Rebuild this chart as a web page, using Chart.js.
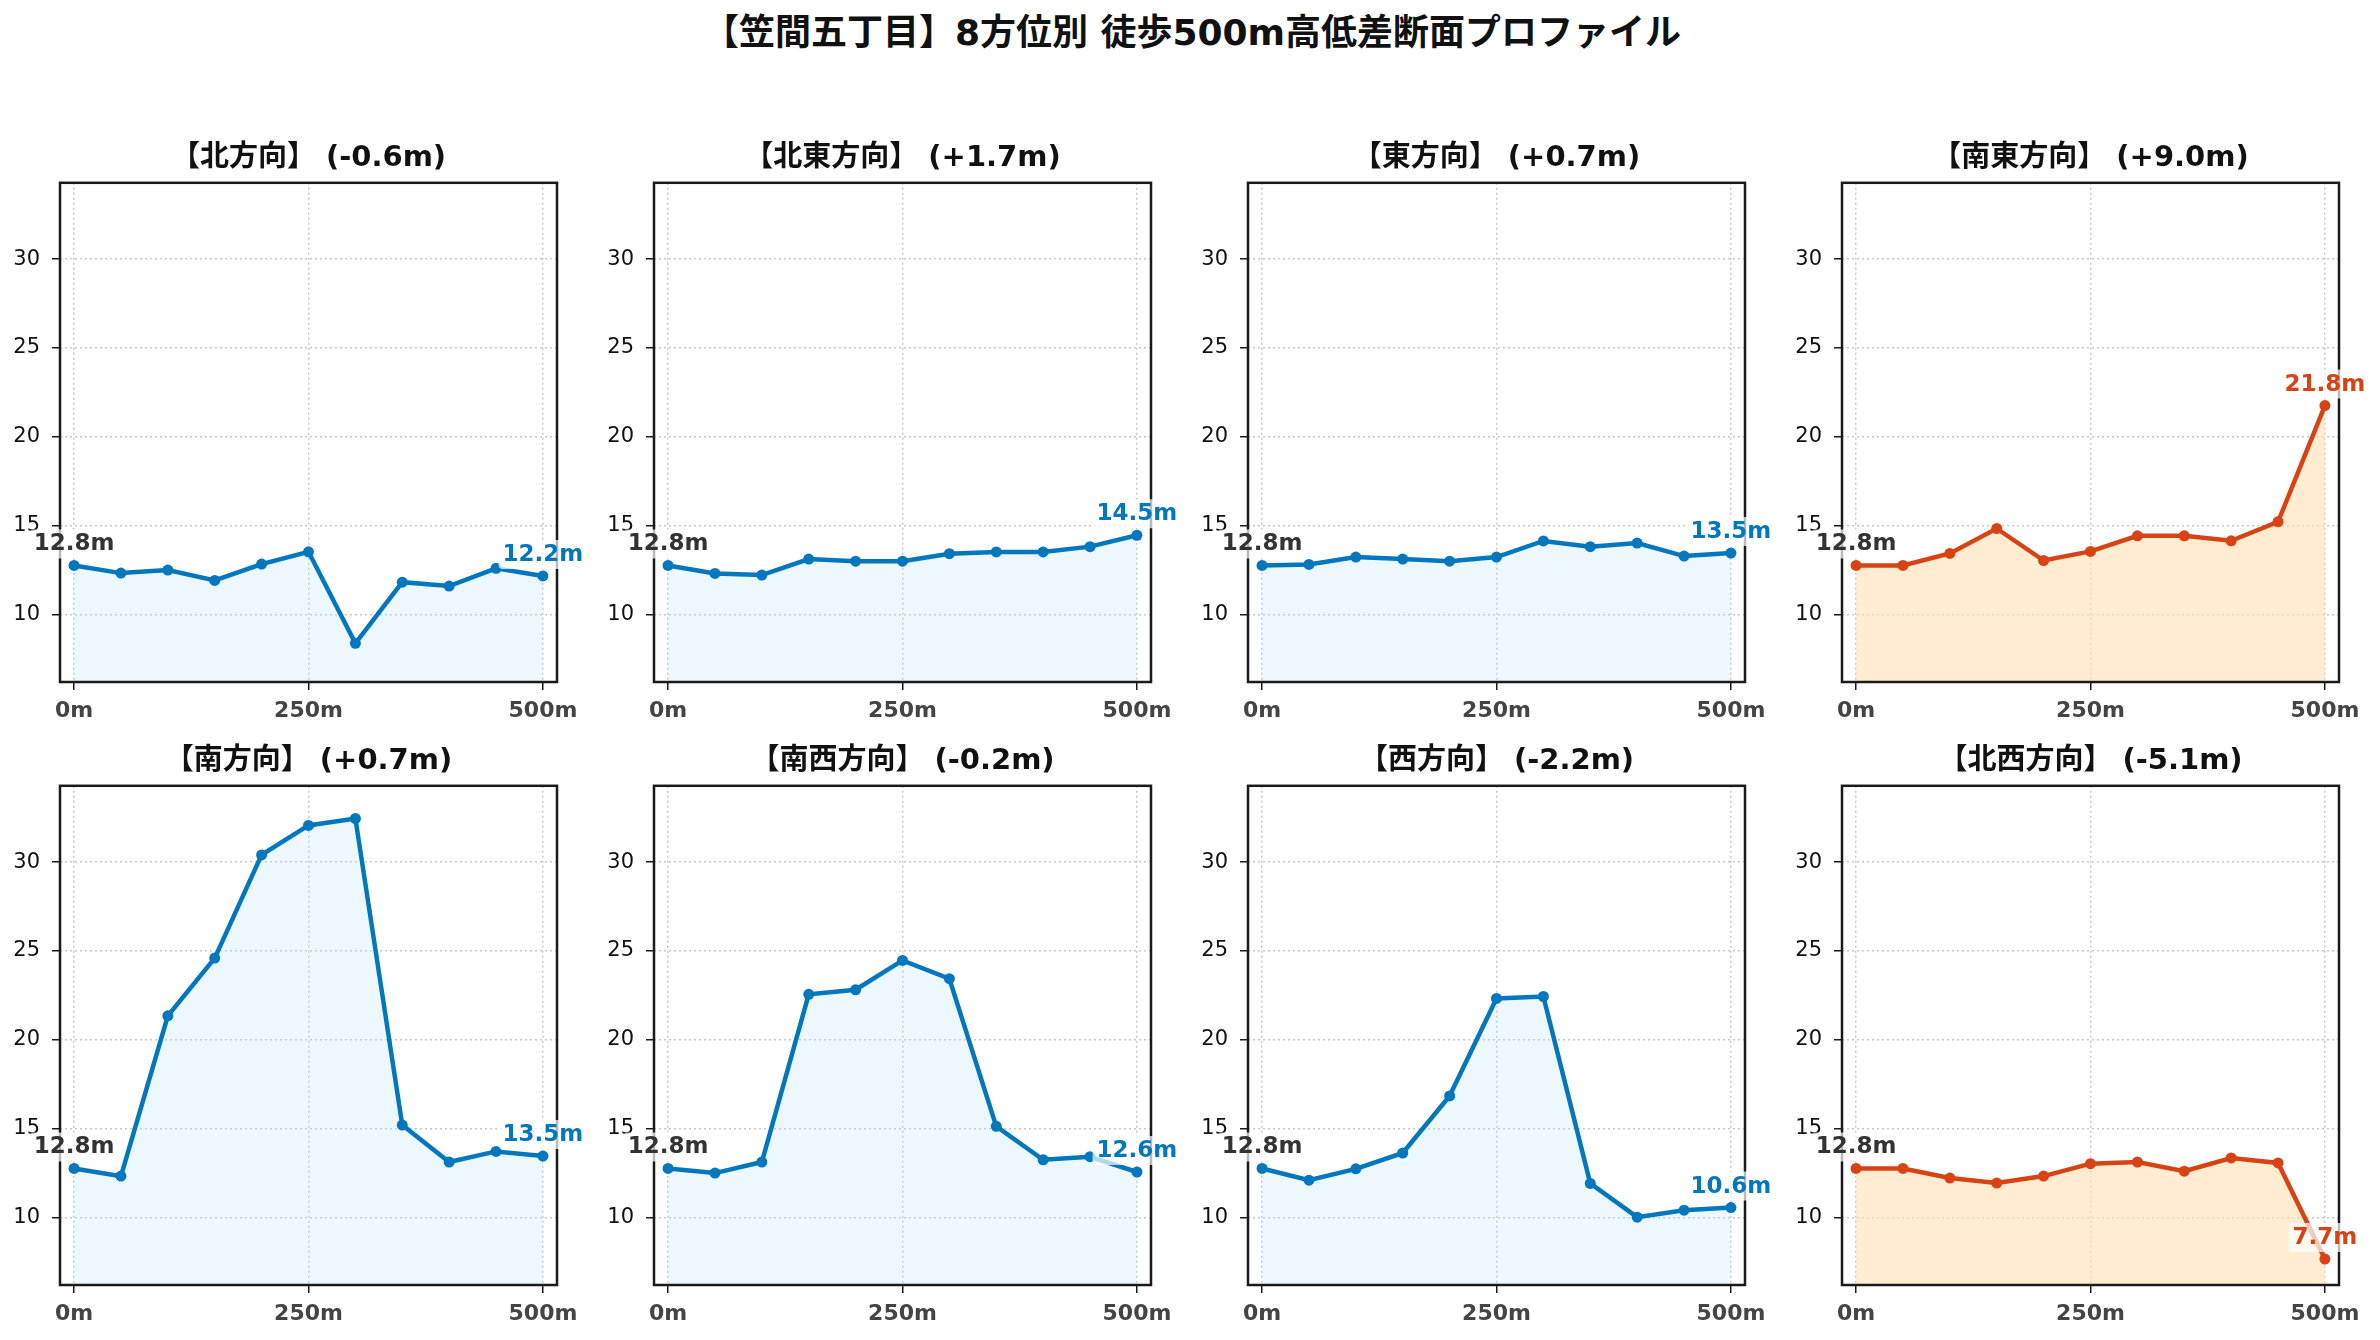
<!DOCTYPE html>
<html>
<head>
<meta charset="utf-8">
<script src="https://cdn.jsdelivr.net/npm/chart.js@4.4.1/dist/chart.umd.min.js"></script>
<style>
  body { margin: 0; background: #fff; }
  #wrap { position: relative; width: 2380px; height: 1340px; overflow: hidden; }
  #suptitle {
    position: absolute; left: 12px; top: 12px; width: 2360px; text-align: center;
    font: bold 36px "DejaVu Sans", "Noto Sans CJK JP", sans-serif; line-height: 42px; color: #111;
  }
  canvas { position: absolute; }
</style>
</head>
<body>
<div id="wrap">
  <div id="suptitle">【笠間五丁目】8方位別 徒歩500m高低差断面プロファイル</div>
</div>
<script>
// distance from the start point (m)
const distances = [0, 50, 100, 150, 200, 250, 300, 350, 400, 450, 500];
const directions = ['北方向', '北東方向', '東方向', '南東方向', '南方向', '南西方向', '西方向', '北西方向'];

// elevation (m) along each direction
const elevN  = [12.76, 12.33, 12.50, 11.92, 12.84, 13.53,  8.38, 11.82, 11.60, 12.60, 12.17];
const elevNE = [12.76, 12.31, 12.22, 13.12, 13.00, 13.00, 13.42, 13.52, 13.52, 13.82, 14.46];
const elevE  = [12.76, 12.82, 13.23, 13.12, 13.00, 13.23, 14.14, 13.82, 14.02, 13.29, 13.46];
const elevSE = [12.76, 12.76, 13.44, 14.84, 13.04, 13.55, 14.43, 14.43, 14.15, 15.22, 21.76];
const elevS  = [12.76, 12.33, 21.35, 24.60, 30.41, 32.07, 32.46, 15.20, 13.12, 13.72, 13.46];
const elevSW = [12.76, 12.50, 13.12, 22.56, 22.82, 24.47, 23.44, 15.13, 13.25, 13.42, 12.56];
const elevW  = [12.76, 12.10, 12.74, 13.63, 16.84, 22.33, 22.44, 11.92, 10.02, 10.41, 10.56];
const elevNW = [12.76, 12.76, 12.22, 11.94, 12.33, 13.03, 13.12, 12.61, 13.35, 13.07,  7.66];
const profiles = [elevN, elevNE, elevE, elevSE, elevS, elevSW, elevW, elevNW];

const xTicks = [0, 250, 500];
const yTicks = [10, 15, 20, 25, 30];
const xMin = -15, xMax = 515;
const yMin = 6.2, yMax = 34.3;

const FONT = '"DejaVu Sans", "Noto Sans CJK JP", sans-serif';
const BLUE = '#0277bd', RED = '#d84315';
const BLUE_FILL = 'rgba(179,229,252,0.25)', RED_FILL = 'rgba(255,224,178,0.6)';

function tag(ctx, text, x, y, color) {
  ctx.font = 'bold 23px ' + FONT;
  const w = ctx.measureText(text).width;
  ctx.fillStyle = 'rgba(255,255,255,0.7)';
  ctx.beginPath();
  ctx.roundRect(x - w / 2 - 4, y - 14, w + 8, 29, 4);
  ctx.fill();
  ctx.fillStyle = color;
  ctx.textAlign = 'center';
  ctx.textBaseline = 'middle';
  ctx.fillText(text, x, y + 1);
}

const framePlugin = {
  id: 'frame',
  afterDraw(chart) {
    const { ctx, chartArea: a } = chart;
    ctx.save();
    ctx.strokeStyle = '#1a1a1a';
    ctx.lineWidth = 2.5;
    ctx.strokeRect(a.left, a.top, a.right - a.left, a.bottom - a.top);
    const ds = chart.data.datasets[0];
    const pts = chart.getDatasetMeta(0).data;
    const first = ds.data[0], last = ds.data[ds.data.length - 1];
    tag(ctx, first.y.toFixed(1) + 'm', pts[0].x, pts[0].y - 22, '#333');
    tag(ctx, last.y.toFixed(1) + 'm', pts[pts.length - 1].x, pts[pts.length - 1].y - 22, ds.borderColor);
    ctx.restore();
  }
};

const wrap = document.getElementById('wrap');
profiles.forEach((elev, i) => {
  const col = i % 4, row = Math.floor(i / 4);
  const cv = document.createElement('canvas');
  cv.width = 594; cv.height = 608;
  cv.style.left = (594 * col) + 'px';
  cv.style.top = (row === 0 ? 119 : 722) + 'px';
  wrap.appendChild(cv);

  const diff = elev[elev.length - 1] - elev[0];
  const warn = Math.abs(diff) >= 5;
  const color = warn ? RED : BLUE;
  const title = '【' + directions[i] + '】 (' + (diff >= 0 ? '+' : '') + diff.toFixed(1) + 'm)';

  new Chart(cv, {
    type: 'line',
    data: {
      datasets: [{
        data: distances.map((d, k) => ({ x: d, y: elev[k] })),
        borderColor: color,
        backgroundColor: warn ? RED_FILL : BLUE_FILL,
        pointBackgroundColor: color,
        pointBorderColor: color,
        borderWidth: 4.5,
        pointRadius: 5.5,
        pointBorderWidth: 0,
        fill: 'start',
        tension: 0
      }]
    },
    options: {
      responsive: false,
      animation: false,
      layout: { padding: { left: 0, right: 37, top: 0, bottom: 0 } },
      plugins: {
        legend: { display: false },
        tooltip: { enabled: false },
        title: {
          display: true, text: title, color: '#111', fullSize: false,
          font: { family: FONT, size: 29, weight: 'bold' },
          padding: { top: 22, bottom: 7 }
        }
      },
      scales: {
        x: {
          type: 'linear', min: xMin, max: xMax,
          afterBuildTicks: s => { s.ticks = xTicks.map(v => ({ value: v })); },
          afterFit: s => { s.height = 45; },
          ticks: {
            callback: v => v + 'm', color: '#444', padding: 8, maxRotation: 0,
            font: { family: FONT, size: 22, weight: 'bold' }
          },
          grid: { color: '#c8c8c8', lineWidth: 1.5, tickColor: '#1a1a1a', tickLength: 8, tickWidth: 1.5 },
          border: { display: false, dash: [2, 3] }
        },
        y: {
          type: 'linear', min: yMin, max: yMax,
          afterBuildTicks: s => { s.ticks = yTicks.map(v => ({ value: v })); },
          afterFit: s => { s.width = 60; },
          ticks: { color: '#111', padding: 12, font: { family: FONT, size: 21 } },
          grid: { color: '#c8c8c8', lineWidth: 1.5, tickColor: '#1a1a1a', tickLength: 8, tickWidth: 1.5 },
          border: { display: false, dash: [2, 3] }
        }
      }
    },
    plugins: [framePlugin]
  });
});
</script>
</body>
</html>
